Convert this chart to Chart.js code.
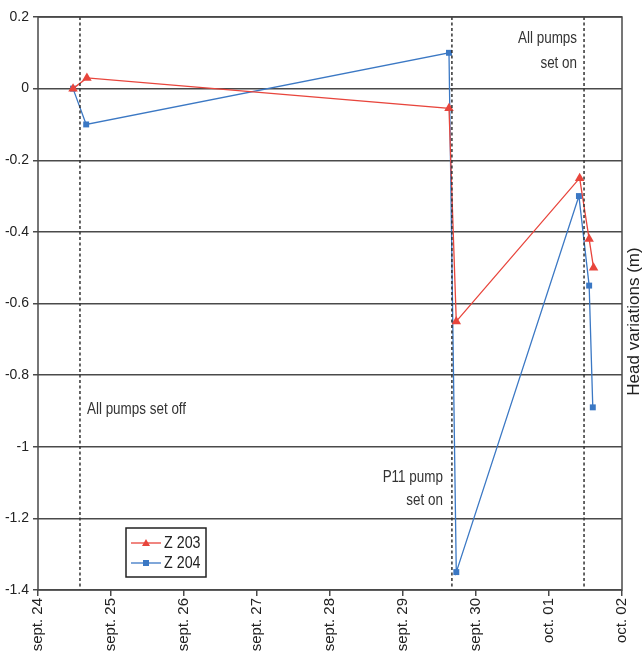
<!DOCTYPE html>
<html>
<head>
<meta charset="utf-8">
<script src="https://cdn.jsdelivr.net/npm/chart.js@4"></script>
<style>
  html, body { margin: 0; padding: 0; background: #fff; }
  #wrap { width: 642px; height: 655px; }
</style>
</head>
<body>
<div id="wrap"><canvas id="headChart"></canvas></div>
<script>
// Tick labels (x = days since sept. 24)
const DAY_LABELS = ['sept. 24', 'sept. 25', 'sept. 26', 'sept. 27', 'sept. 28', 'sept. 29', 'sept. 30', 'oct. 01', 'oct. 02'];

// Series
const Z203_X = [0.48, 0.67, 5.63, 5.73, 7.42, 7.55, 7.61];
const Z203_Y = [0, 0.03, -0.055, -0.65, -0.25, -0.42, -0.50];
const Z204_X = [0.48, 0.66, 5.63, 5.73, 7.41, 7.55, 7.60];
const Z204_Y = [0, -0.10, 0.10, -1.35, -0.30, -0.55, -0.89];

// Pump events (dashed lines)
const EVENT_X = [0.575, 5.67, 7.48];

const Y_MIN = -1.4;
const Y_MAX = 0.2;

const COLORS = {
    z203: '#e8453c',
    z204: '#3b78c4',
    grid: '#4a4a4a',
    text: '#333333'
};

const SANS = '"Liberation Sans", Arial, sans-serif';

const toPoints = (xs, ys) => xs.map((x, i) => ({ x: x, y: ys[i] }));

// condensed text, like Arial Narrow
function narrowText(ctx, text, x, y, align) {
    ctx.save();
    ctx.translate(x, y);
    ctx.scale(0.84, 1);
    ctx.textAlign = align;
    ctx.fillText(text, 0, 0);
    ctx.restore();
}

const eventSets = EVENT_X.map(x => ({
    data: [{ x: x, y: Y_MAX }, { x: x, y: Y_MIN }],
    borderColor: '#333',
    borderWidth: 1.5,
    borderDash: [3, 2.5],
    pointRadius: 0,
    fill: false
}));

// Frame, annotations, right-side label and legend
const extrasPlugin = {
    id: 'extras',
    afterDatasetsDraw(chart) {
        const { ctx, chartArea: a, scales: { x, y } } = chart;
        ctx.save();

        // plot frame
        ctx.strokeStyle = COLORS.grid;
        ctx.lineWidth = 1.5;
        ctx.strokeRect(a.left, a.top, a.right - a.left, a.bottom - a.top);

        // annotations
        ctx.fillStyle = COLORS.text;
        ctx.font = '16px ' + SANS;
        ctx.textBaseline = 'middle';
        narrowText(ctx, 'All pumps set off', x.getPixelForValue(EVENT_X[0]) + 7, y.getPixelForValue(-0.895), 'left');

        const e1 = x.getPixelForValue(EVENT_X[1]) - 9;
        narrowText(ctx, 'P11 pump', e1, y.getPixelForValue(-1.085), 'right');
        narrowText(ctx, 'set on', e1, y.getPixelForValue(-1.15), 'right');

        const e2 = x.getPixelForValue(EVENT_X[2]) - 7;
        narrowText(ctx, 'All pumps', e2, y.getPixelForValue(0.14), 'right');
        narrowText(ctx, 'set on', e2, y.getPixelForValue(0.07), 'right');

        // right-side axis label
        ctx.save();
        ctx.translate(634, (a.top + a.bottom) / 2 + 18);
        ctx.rotate(-Math.PI / 2);
        ctx.textAlign = 'center';
        ctx.font = '17px ' + SANS;
        ctx.fillStyle = '#222';
        ctx.fillText('Head variations (m)', 0, 0);
        ctx.restore();

        // legend box
        const lx = 126, ly = 528, lw = 80, lh = 49;
        ctx.fillStyle = '#fff';
        ctx.fillRect(lx, ly, lw, lh);
        ctx.strokeStyle = '#222';
        ctx.lineWidth = 1.5;
        ctx.strokeRect(lx, ly, lw, lh);

        const entries = [
            { label: 'Z 203', color: COLORS.z203, shape: 'tri', yy: ly + 15 },
            { label: 'Z 204', color: COLORS.z204, shape: 'sq', yy: ly + 35 }
        ];
        entries.forEach(en => {
            ctx.strokeStyle = en.color;
            ctx.lineWidth = 1.3;
            ctx.beginPath();
            ctx.moveTo(lx + 5, en.yy);
            ctx.lineTo(lx + 35, en.yy);
            ctx.stroke();
            ctx.fillStyle = en.color;
            const cx = lx + 20;
            if (en.shape === 'tri') {
                ctx.beginPath();
                ctx.moveTo(cx, en.yy - 4);
                ctx.lineTo(cx + 4, en.yy + 3);
                ctx.lineTo(cx - 4, en.yy + 3);
                ctx.closePath();
                ctx.fill();
            } else {
                ctx.fillRect(cx - 3, en.yy - 3, 6, 6);
            }
            ctx.fillStyle = '#222';
            ctx.font = '17px ' + SANS;
            narrowText(ctx, en.label, lx + 38, en.yy, 'left');
        });

        ctx.restore();
    }
};

const ctx = document.getElementById('headChart').getContext('2d');

new Chart(ctx, {
    type: 'line',
    data: {
        datasets: [
            ...eventSets,
            {
                label: 'Z 203',
                data: toPoints(Z203_X, Z203_Y),
                borderColor: COLORS.z203,
                backgroundColor: COLORS.z203,
                borderWidth: 1.3,
                pointStyle: 'triangle',
                pointRadius: 5.5,
                pointBorderWidth: 0,
                tension: 0,
                fill: false
            },
            {
                label: 'Z 204',
                data: toPoints(Z204_X, Z204_Y),
                borderColor: COLORS.z204,
                backgroundColor: COLORS.z204,
                borderWidth: 1.3,
                pointStyle: 'rect',
                pointRadius: 4.2,
                pointBorderWidth: 0,
                tension: 0,
                fill: false
            }
        ]
    },
    options: {
        responsive: true,
        maintainAspectRatio: false,
        animation: false,
        layout: { padding: { top: 17, right: 20, left: 0, bottom: 0 } },
        plugins: {
            legend: { display: false },
            tooltip: { enabled: false }
        },
        scales: {
            x: {
                type: 'linear',
                min: 0,
                max: DAY_LABELS.length - 1,
                afterBuildTicks: axis => {
                    axis.ticks = DAY_LABELS.map((_, i) => ({ value: i }));
                },
                afterFit: axis => { axis.height = 65; },
                ticks: {
                    callback: v => DAY_LABELS[v],
                    minRotation: 90,
                    maxRotation: 90,
                    autoSkip: false,
                    padding: 2,
                    color: '#222',
                    font: { family: SANS, size: 15 }
                },
                grid: {
                    drawOnChartArea: false,
                    drawTicks: true,
                    tickLength: 6,
                    color: COLORS.grid,
                    lineWidth: 1.5
                },
                border: { display: false }
            },
            y: {
                min: Y_MIN,
                max: Y_MAX,
                afterBuildTicks: axis => {
                    const t = [];
                    for (let v = Y_MIN; v <= Y_MAX + 1e-9; v += 0.2) t.push({ value: Math.round(v * 10) / 10 });
                    axis.ticks = t;
                },
                afterFit: axis => { axis.width = 38; },
                ticks: {
                    callback: v => String(Math.round(v * 10) / 10),
                    padding: 4,
                    color: '#222',
                    font: { family: SANS, size: 14 }
                },
                grid: {
                    color: COLORS.grid,
                    lineWidth: 1.5,
                    tickLength: 5
                },
                border: { display: false }
            }
        }
    },
    plugins: [extrasPlugin]
});
</script>
</body>
</html>
